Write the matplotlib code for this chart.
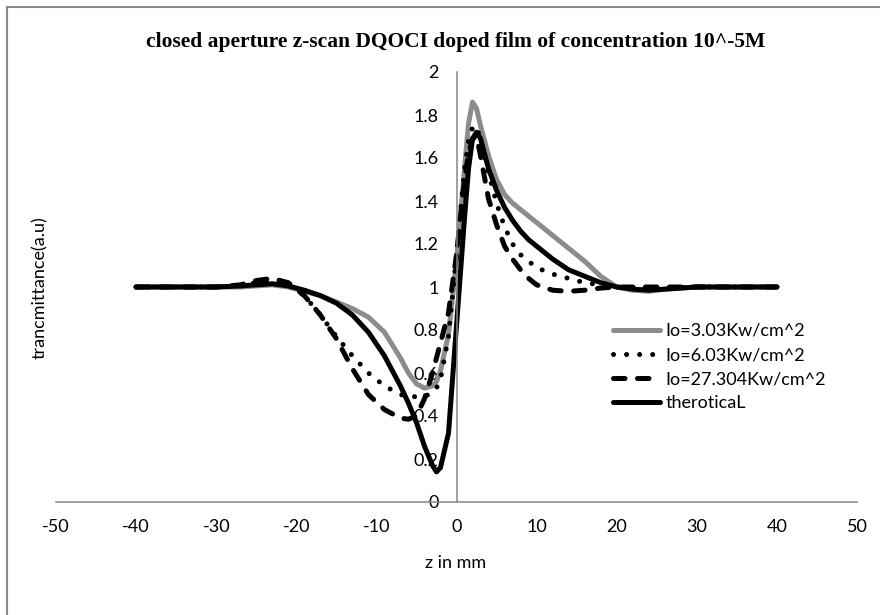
import numpy as np
import matplotlib
matplotlib.use("Agg")
import matplotlib.pyplot as plt
from matplotlib.lines import Line2D

plt.rcParams['font.family'] = ['Lato', 'DejaVu Sans']

z = [-40, -35, -30, -27, -25, -23, -21, -19, -17, -15, -13, -11, -9, -7, -6, -5,
     -4, -3, -2.5, -2, -1, 0, 1, 1.5, 2, 2.5, 3, 4, 5, 6, 7, 8, 9, 10, 12, 14, 16,
     18, 20, 22, 24, 26, 30, 35, 40]

# Io=3.03Kw/cm^2 (grey)
t_303 = [1.0, 1.0, 1.0, 1.0, 1.005, 1.01, 1.0, 0.98, 0.96, 0.93, 0.90, 0.86, 0.79,
         0.67, 0.60, 0.55, 0.53, 0.54, 0.56, 0.61, 0.78, 1.12, 1.55, 1.76, 1.86, 1.83,
         1.75, 1.61, 1.50, 1.43, 1.39, 1.36, 1.33, 1.30, 1.24, 1.18, 1.12, 1.05,
         1.0, 0.985, 0.98, 0.99, 1.0, 1.0, 1.0]

# Io=6.03Kw/cm^2 (dotted)
t_603 = [1.0, 1.0, 1.0, 1.005, 1.02, 1.03, 1.01, 0.96, 0.87, 0.77, 0.68, 0.60, 0.54,
         0.50, 0.49, 0.49, 0.49, 0.51, 0.53, 0.57, 0.77, 1.15, 1.55, 1.68, 1.74, 1.75,
         1.68, 1.53, 1.39, 1.28, 1.20, 1.15, 1.12, 1.09, 1.06, 1.04, 1.02, 1.01,
         1.0, 0.995, 0.99, 0.995, 1.0, 1.0, 1.0]

# Io=27.304Kw/cm^2 (dashed)
t_27304 = [1.0, 1.0, 1.0, 1.01, 1.03, 1.04, 1.02, 0.96, 0.87, 0.76, 0.62, 0.50, 0.43,
           0.39, 0.385, 0.40, 0.48, 0.60, 0.67, 0.74, 0.88, 1.15, 1.50, 1.62, 1.69, 1.70,
           1.61, 1.41, 1.29, 1.19, 1.13, 1.08, 1.04, 1.01, 0.985, 0.98, 0.985, 0.995,
           1.0, 1.0, 1.0, 1.0, 1.0, 1.0, 1.0]

# therotical (solid black)
t_theo = [1.0, 1.0, 1.0, 1.005, 1.01, 1.015, 1.005, 0.985, 0.96, 0.925, 0.87, 0.79,
          0.68, 0.54, 0.46, 0.37, 0.26, 0.17, 0.14, 0.16, 0.32, 0.82, 1.32, 1.55, 1.69,
          1.72, 1.69, 1.55, 1.45, 1.37, 1.31, 1.26, 1.22, 1.19, 1.13, 1.08, 1.05,
          1.02, 1.0, 0.99, 0.985, 0.99, 1.0, 1.0, 1.0]

xticks = [-50, -40, -30, -20, -10, 0, 10, 20, 30, 40, 50]
yticks = [0, 0.2, 0.4, 0.6, 0.8, 1, 1.2, 1.4, 1.6, 1.8, 2]
ytick_labels = ['0', '0.2', '0.4', '0.6', '0.8', '1', '1.2', '1.4', '1.6', '1.8', '2']

fig = plt.figure(figsize=(8.8, 6.15), dpi=100)
ax = fig.add_axes([56/880, 113/615, 801/880, 430/615])

lw = 3.6
ax.plot(z, t_303, color='#8c8c8c', lw=lw, solid_capstyle='round',
        solid_joinstyle='round', label='Io=3.03Kw/cm^2')
ax.plot(z, t_603, color='black', lw=lw, linestyle=(0, (0.01, 2.6)),
        dash_capstyle='round', label='Io=6.03Kw/cm^2')
ax.plot(z, t_27304, color='black', lw=lw, linestyle=(0, (2.3, 2.5)),
        dash_capstyle='round', label='Io=27.304Kw/cm^2')
ax.plot(z, t_theo, color='black', lw=lw, solid_capstyle='round',
        solid_joinstyle='round', label='theroticaL')

ax.set_xlim(-50, 50)
ax.set_ylim(0, 2)
ax.set_xticks(xticks)
ax.set_xticklabels([str(v) for v in xticks])
ax.set_yticks(yticks)
ax.set_yticklabels(ytick_labels)
ax.tick_params(length=0, labelsize=13)
ax.tick_params(axis='x', pad=12)
ax.tick_params(axis='y', pad=13)

# axes cross at the origin, like Excel
ax.spines['left'].set_position(('data', 0))
for s in ['left', 'bottom']:
    ax.spines[s].set_color('#868686')
    ax.spines[s].set_linewidth(1.1)
ax.spines['top'].set_visible(False)
ax.spines['right'].set_visible(False)
ax.patch.set_alpha(0)

fig.text(456/880, 1 - 563/615, 'z in mm', ha='center', va='center', fontsize=13)
fig.text(40/880, 1 - 288/615, 'trancmittance(a.u)', ha='center', va='center',
         rotation=90, fontsize=13)
fig.text(456/880, 1 - 42/615,
         'closed aperture z-scan DQOCI doped film of concentration 10^-5M',
         ha='center', va='center', fontsize=15.5, fontweight='bold',
         family='Liberation Serif')

ax.legend(loc='upper left', bbox_to_anchor=(613/880, 1 - 323/615),
          bbox_transform=fig.transFigure, frameon=False, fontsize=13,
          handlelength=2.6, handletextpad=0.3, labelspacing=0.45, borderpad=0,
          borderaxespad=0)

# chart frame (only top and left edges visible)
fig.add_artist(Line2D([7/880, 7/880], [0, 1 - 7/615], color='#8a8a8a', lw=1.5,
                      transform=fig.transFigure))
fig.add_artist(Line2D([7/880, 1], [1 - 7/615, 1 - 7/615], color='#8a8a8a', lw=1.5,
                      transform=fig.transFigure))

fig.savefig('out.png', dpi=100)
